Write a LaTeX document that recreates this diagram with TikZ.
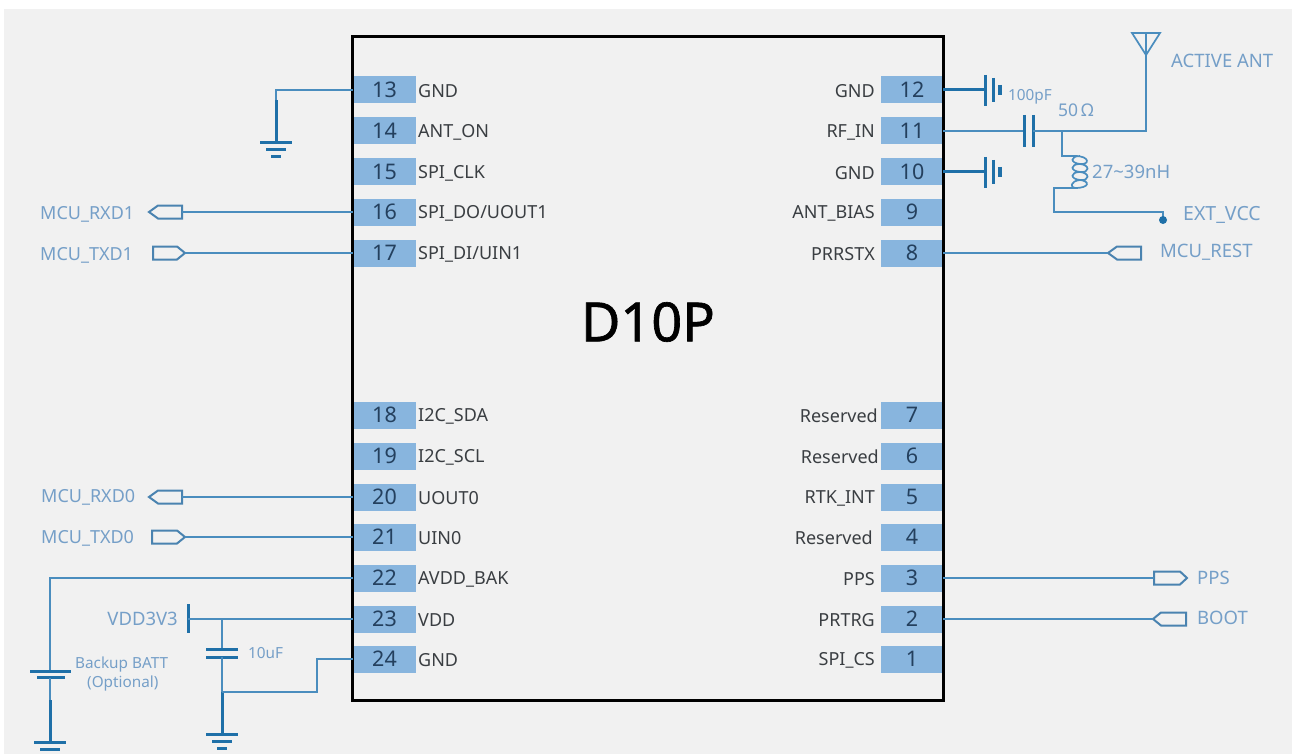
\documentclass[tikz,border=0pt]{standalone}
\usepackage{fontspec}
\setmainfont{Noto Sans}
\newfontfamily\titlefont[FakeBold=1.2]{Noto Sans}
\definecolor{bggray}{HTML}{F1F1F1}
\definecolor{pinfill}{HTML}{88B5DE}
\definecolor{wire}{HTML}{4A8DBE}
\definecolor{wiredark}{HTML}{1F70A8}
\definecolor{portline}{HTML}{4A83B0}
\definecolor{lbl}{HTML}{759FC8}
\definecolor{dark}{HTML}{3A3E42}
\definecolor{pinnum}{HTML}{24405E}
\tikzset{
  pinbox/.style={fill=pinfill,minimum width=62pt,minimum height=27pt,inner sep=0pt,text=pinnum,font=\fontsize{21.5}{22}\selectfont},
  pinname/.style={text=dark,font=\fontsize{18}{18}\selectfont,inner sep=0pt},
  netlbl/.style={text=lbl,font=\fontsize{18.5}{19}\selectfont,inner sep=0pt,anchor=west},
  smalllbl/.style={text=lbl,font=\fontsize{15.3}{17}\selectfont,inner sep=0pt,anchor=west},
  wireline/.style={draw=wire,line width=1.7pt},
  thick wire/.style={draw=wiredark,line width=3pt},
  plate/.style={draw=wiredark,line width=3pt},
  port/.style={draw=portline,line width=2pt,line join=miter},
}
\newcommand{\groundsym}[3]{%
  \draw[plate] (#1-16,#2) -- (#1+16,#2);
  \draw[plate] (#1-10,#2+7) -- (#1+10,#2+7);
  \draw[plate] (#1-5,#2+14) -- (#1+5,#2+14);
  \coordinate (#3) at (#1,#2);
}
\newcommand{\gndcap}[2]{%
  \draw[plate] (985,#1-15) -- (985,#1+16);
  \draw[plate] (993,#1-12) -- (993,#1+12);
  \draw[plate,line width=3.4pt] (1000,#1-5) -- (1000,#1+5);
  \coordinate (#2) at (985,#1);
}
\newcommand{\portL}[5]{% tip at left: tipx, neck, rect right, y, name
  \draw[port] (#1,#4) -- (#2,#4-6.5) -- (#3,#4-6.5) -- (#3,#4+6.5) -- (#2,#4+6.5) -- cycle;
  \coordinate (#5) at (#3,#4);
  \coordinate (#5tip) at (#1,#4);
}
\newcommand{\portR}[5]{% rect left, neck, tip at right, y, name
  \draw[port] (#1,#4-6.5) -- (#2,#4-6.5) -- (#3,#4) -- (#2,#4+6.5) -- (#1,#4+6.5) -- cycle;
  \coordinate (#5) at (#1,#4);
  \coordinate (#5tip) at (#3,#4);
}
\begin{document}
\begin{tikzpicture}[x=1pt,y=-1pt]
\useasboundingbox (0,0) rectangle (1292,754);
\fill[white] (0,0) rectangle (1292,754);
\fill[bggray] (4,9) rectangle (1292,754);

% pins, left side
\foreach \n/\y/\t in {13/90/{GND},14/131/{ANT\_ON},15/172/{SPI\_CLK},16/212/{SPI\_DO/UOUT1},17/253/{SPI\_DI/UIN1},18/415/{I2C\_SDA},19/456/{I2C\_SCL},20/497/{UOUT0},21/537/{UIN0},22/578/{AVDD\_BAK},23/619/{VDD},24/659/{GND}}{
  \node[pinbox] (p\n) at (384.5,\y) {\n};
  \node[pinname,anchor=west] (n\n) at (418,\y+1) {\t};
}
% pins, right side
\foreach \n/\y/\t/\xr in {12/90/{GND}/875,11/131/{RF\_IN}/875,10/172/{GND}/875,9/212/{ANT\_BIAS}/875,8/253/{PRRSTX}/875,7/415/{Reserved}/878,6/456/{Reserved}/879,5/497/{RTK\_INT}/875,4/537/{Reserved}/873,3/578/{PPS}/875,2/619/{PRTRG}/875,1/659/{SPI\_CS}/875}{
  \node[pinbox] (p\n) at (912,\y) {\n};
  \node[pinname,anchor=east] (n\n) at (\xr,\y+1) {\t};
}
% chip
\draw[black,line width=3pt] (352,37) rectangle (943,700);
\node[text=black,font=\fontsize{54}{54}\selectfont\titlefont,inner sep=0pt] (title) at (648,322) {D10P};

% pin 13 ground
\groundsym{276}{143}{g13}
\draw[wireline] (p13.west) -| (276,100);
\draw[thick wire] (276,100) -- (g13);

% left ports
\portL{149}{158}{182}{212}{rxd1}
\portR{153}{177}{185}{253}{txd1}
\portL{149}{158}{182}{497}{rxd0}
\portR{152}{177}{185}{537}{txd0}
\draw[wireline] (rxd1) -- (p16.west);
\draw[wireline] (txd1tip) -- (p17.west);
\draw[wireline] (rxd0) -- (p20.west);
\draw[wireline] (txd0tip) -- (p21.west);
\node[netlbl,font=\fontsize{18}{19}\selectfont] (lrxd1) at (40,214) {MCU\_RXD1};
\node[netlbl,font=\fontsize{18}{19}\selectfont] (ltxd1) at (40,255) {MCU\_TXD1};
\node[netlbl,font=\fontsize{18}{19}\selectfont] (lrxd0) at (41,497) {MCU\_RXD0};
\node[netlbl,font=\fontsize{18}{19}\selectfont] (ltxd0) at (41,538) {MCU\_TXD0};

% backup battery
\coordinate (battp) at (50,671);
\draw[wireline] (p22.west) -| (battp);
\draw[plate] (30,671) -- (71,671);
\draw[plate] (37,677.5) -- (65,677.5);
\draw[wireline] (50,677.5) -- (50,700);
\groundsym{50}{742}{g22}
\draw[thick wire] (50,700) -- (g22);
\node[smalllbl] (batt) at (75,665) {Backup BATT};
\node[smalllbl] (opt) at (87,684) {(Optional)};

% VDD3V3 and decoupling
\node[netlbl,anchor=east] (lvdd) at (178,619) {VDD3V3};
\draw[plate] (188,604) -- (188,633);
\coordinate (vddbar) at (188,619);
\coordinate (jvdd) at (222,619);
\draw[wireline] (vddbar) -- (p23.west);
\draw[wireline] (jvdd) -- (222,649);
\draw[plate] (206,649) -- (238,649);
\draw[plate] (206,657) -- (238,657);
\draw[wireline] (222,657) -- (222,692);
\coordinate (jgnd) at (222,692);
\groundsym{222}{734}{g24}
\draw[thick wire] (jgnd) -- (g24);
\draw[wireline] (jgnd) -| (317,659) -- (p24.west);
\node[smalllbl] (l10u) at (248,653) {10uF};

% top-right RF section
\gndcap{90}{c12}
\gndcap{172}{c10}
\draw[thick wire] (p12.east) -- (c12);
\draw[thick wire] (p10.east) -- (c10);
\node[smalllbl] (l100p) at (1008,97) {100pF};
\coordinate (cap1) at (1024.5,131);
\coordinate (cap2) at (1033,131);
\coordinate (jrf) at (1062,131);
\coordinate (ant) at (1146,55);
\draw[wireline] (p11.east) -- (cap1);
\draw[plate] (1024.5,115) -- (1024.5,147);
\draw[plate] (1033,115) -- (1033,147);
\draw[wireline] (cap2) -- (jrf) -- (1146,131) -- (ant);
\draw[wireline,line join=miter] (1132,33) -- (1160,33) -- (ant) -- cycle (1146,33) -- (ant);
\node[text=lbl,font=\fontsize{17.5}{18}\selectfont,inner sep=0pt,anchor=west] (l50) at (1058,110) {50\,Ω};
\node[netlbl] (lant) at (1171,61) {ACTIVE ANT};
% inductor
\coordinate (lt) at (1075,156);
\coordinate (lb) at (1075,188);
\draw[wireline] (jrf) |- (lt);
\draw[wireline] (lt) .. controls (1090,156) and (1090,165) .. (1080,164)
  .. controls (1070,163) and (1070,156) .. (1080,156)
  (1080,164) .. controls (1090,165) and (1090,173) .. (1080,172)
  .. controls (1070,171) and (1070,164) .. (1080,164)
  (1080,172) .. controls (1090,173) and (1090,181) .. (1080,180)
  .. controls (1070,179) and (1070,172) .. (1080,172)
  (1080,180) .. controls (1090,181) and (1090,188) .. (lb);
\draw[wireline] (1080,180) .. controls (1070,181) and (1070,188) .. (lb);
\node[netlbl] (l27) at (1092,172) {27\textasciitilde 39nH};
\coordinate (vcc) at (1163,220);
\draw[wireline] (lb) -| (1054,212) -| (vcc);
\fill[wiredark] (vcc) circle (4);
\node[netlbl,font=\fontsize{19.5}{20}\selectfont] (lvcc) at (1183,215) {EXT\_VCC};

% right ports
\portL{1108}{1117}{1141}{253}{rest}
\draw[wireline] (p8.east) -- (resttip);
\node[netlbl] (lrest) at (1160,252) {MCU\_REST};
\portR{1154}{1180}{1187}{578}{pps}
\draw[wireline] (p3.east) -- (pps);
\node[netlbl] (lpps) at (1197,578) {PPS};
\portL{1153}{1161}{1186}{619}{boot}
\draw[wireline] (p2.east) -- (boottip);
\node[netlbl] (lboot) at (1197,618) {BOOT};
\end{tikzpicture}
\end{document}
